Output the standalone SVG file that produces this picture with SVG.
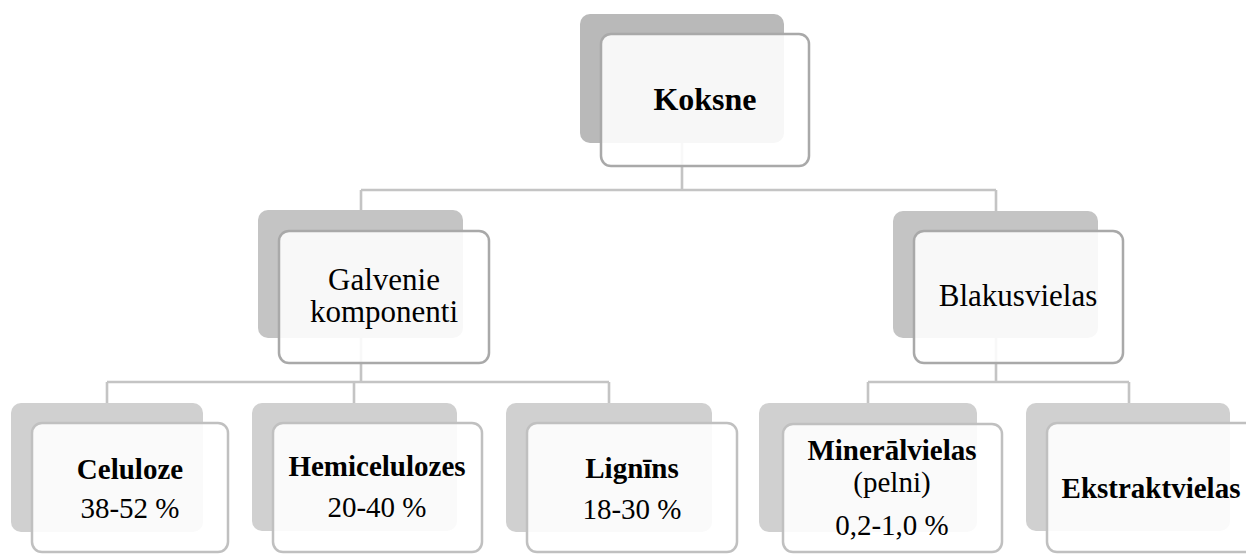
<svg xmlns="http://www.w3.org/2000/svg" width="1246" height="555" viewBox="0 0 1246 555">
<style>
.bg1{fill:#b9b9b9}
.bg2{fill:#c4c4c4}
.bg3{fill:#d0d0d0}
.fr{fill:#ffffff;fill-opacity:0.88;stroke:#a9a9a9;stroke-width:2.5}
.fr3{fill:#ffffff;fill-opacity:0.88;stroke:#c0c0c0;stroke-width:2.5}
.con{fill:none;stroke:#c4c4c4;stroke-width:2.6}
.t1{font-size:32px;font-weight:bold}
.t2{font-size:31px}
.b3{font-size:29px;font-weight:bold}
.r3{font-size:29px}
</style>
<rect width="1246" height="555" fill="#ffffff"/>
<g id="connectors">
<path class="con" d="M682,143 V190 M361,190 H996 M361,190 V210 M996,190 V211"/>
<path class="con" d="M361,338 V382 M107,382 H609 M107,382 V403 M354,382 V403 M609,382 V403"/>
<path class="con" d="M996,338 V382 M868,382 H1129 M868,382 V403 M1129,382 V403"/>
</g>
<g font-family="'Liberation Serif', 'Times New Roman', 'DejaVu Serif', serif" fill="#000000" text-anchor="middle">
<g id="koksne">
<rect class="bg1" x="580" y="14" width="204" height="129" rx="10"/>
<rect class="fr" x="601" y="34" width="208" height="132" rx="10"/>
<text class="t1" x="705" y="110">Koksne</text>
</g>
<g id="galvenie">
<rect class="bg2" x="258" y="210" width="205" height="128" rx="10"/>
<rect class="fr" x="279" y="231" width="210" height="132" rx="10"/>
<text class="t2" x="384" y="290">Galvenie</text>
<text class="t2" x="384" y="322">komponenti</text>
</g>
<g id="blakusvielas">
<rect class="bg2" x="893" y="211" width="205" height="127" rx="10"/>
<rect class="fr" x="914" y="231" width="209" height="132" rx="10"/>
<text class="t2" x="1018" y="306" font-size="32">Blakusvielas</text>
</g>
<g id="celuloze">
<rect class="bg3" x="11" y="403" width="192" height="129" rx="10"/>
<rect class="fr3" x="32" y="423" width="196" height="129" rx="10"/>
<text class="b3" x="130" y="479">Celuloze</text>
<text class="r3" x="130" y="518">38-52 %</text>
</g>
<g id="hemicelulozes">
<rect class="bg3" x="252" y="403" width="205" height="128" rx="10"/>
<rect class="fr3" x="273" y="423" width="209" height="129" rx="10"/>
<text class="b3" x="377" y="476">Hemicelulozes</text>
<text class="r3" x="377" y="517">20-40 %</text>
</g>
<g id="lignins">
<rect class="bg3" x="506" y="403" width="206" height="129" rx="10"/>
<rect class="fr3" x="527" y="423" width="210" height="129" rx="10"/>
<text class="b3" x="632" y="478">Lignīns</text>
<text class="r3" x="632" y="519">18-30 %</text>
</g>
<g id="mineralvielas">
<rect class="bg3" x="759" y="403" width="218" height="129" rx="10"/>
<rect class="fr3" x="783" y="424" width="219" height="128" rx="10"/>
<text class="b3" x="892" y="460">Minerālvielas</text>
<text class="r3" x="892" y="492">(pelni)</text>
<text class="r3" x="892" y="535">0,2-1,0 %</text>
</g>
<g id="ekstraktvielas">
<rect class="bg3" x="1026" y="403" width="204" height="128" rx="10"/>
<rect class="fr3" x="1047" y="423" width="210" height="129" rx="10"/>
<text class="b3" x="1151" y="498">Ekstraktvielas</text>
</g>
</g>
</svg>
